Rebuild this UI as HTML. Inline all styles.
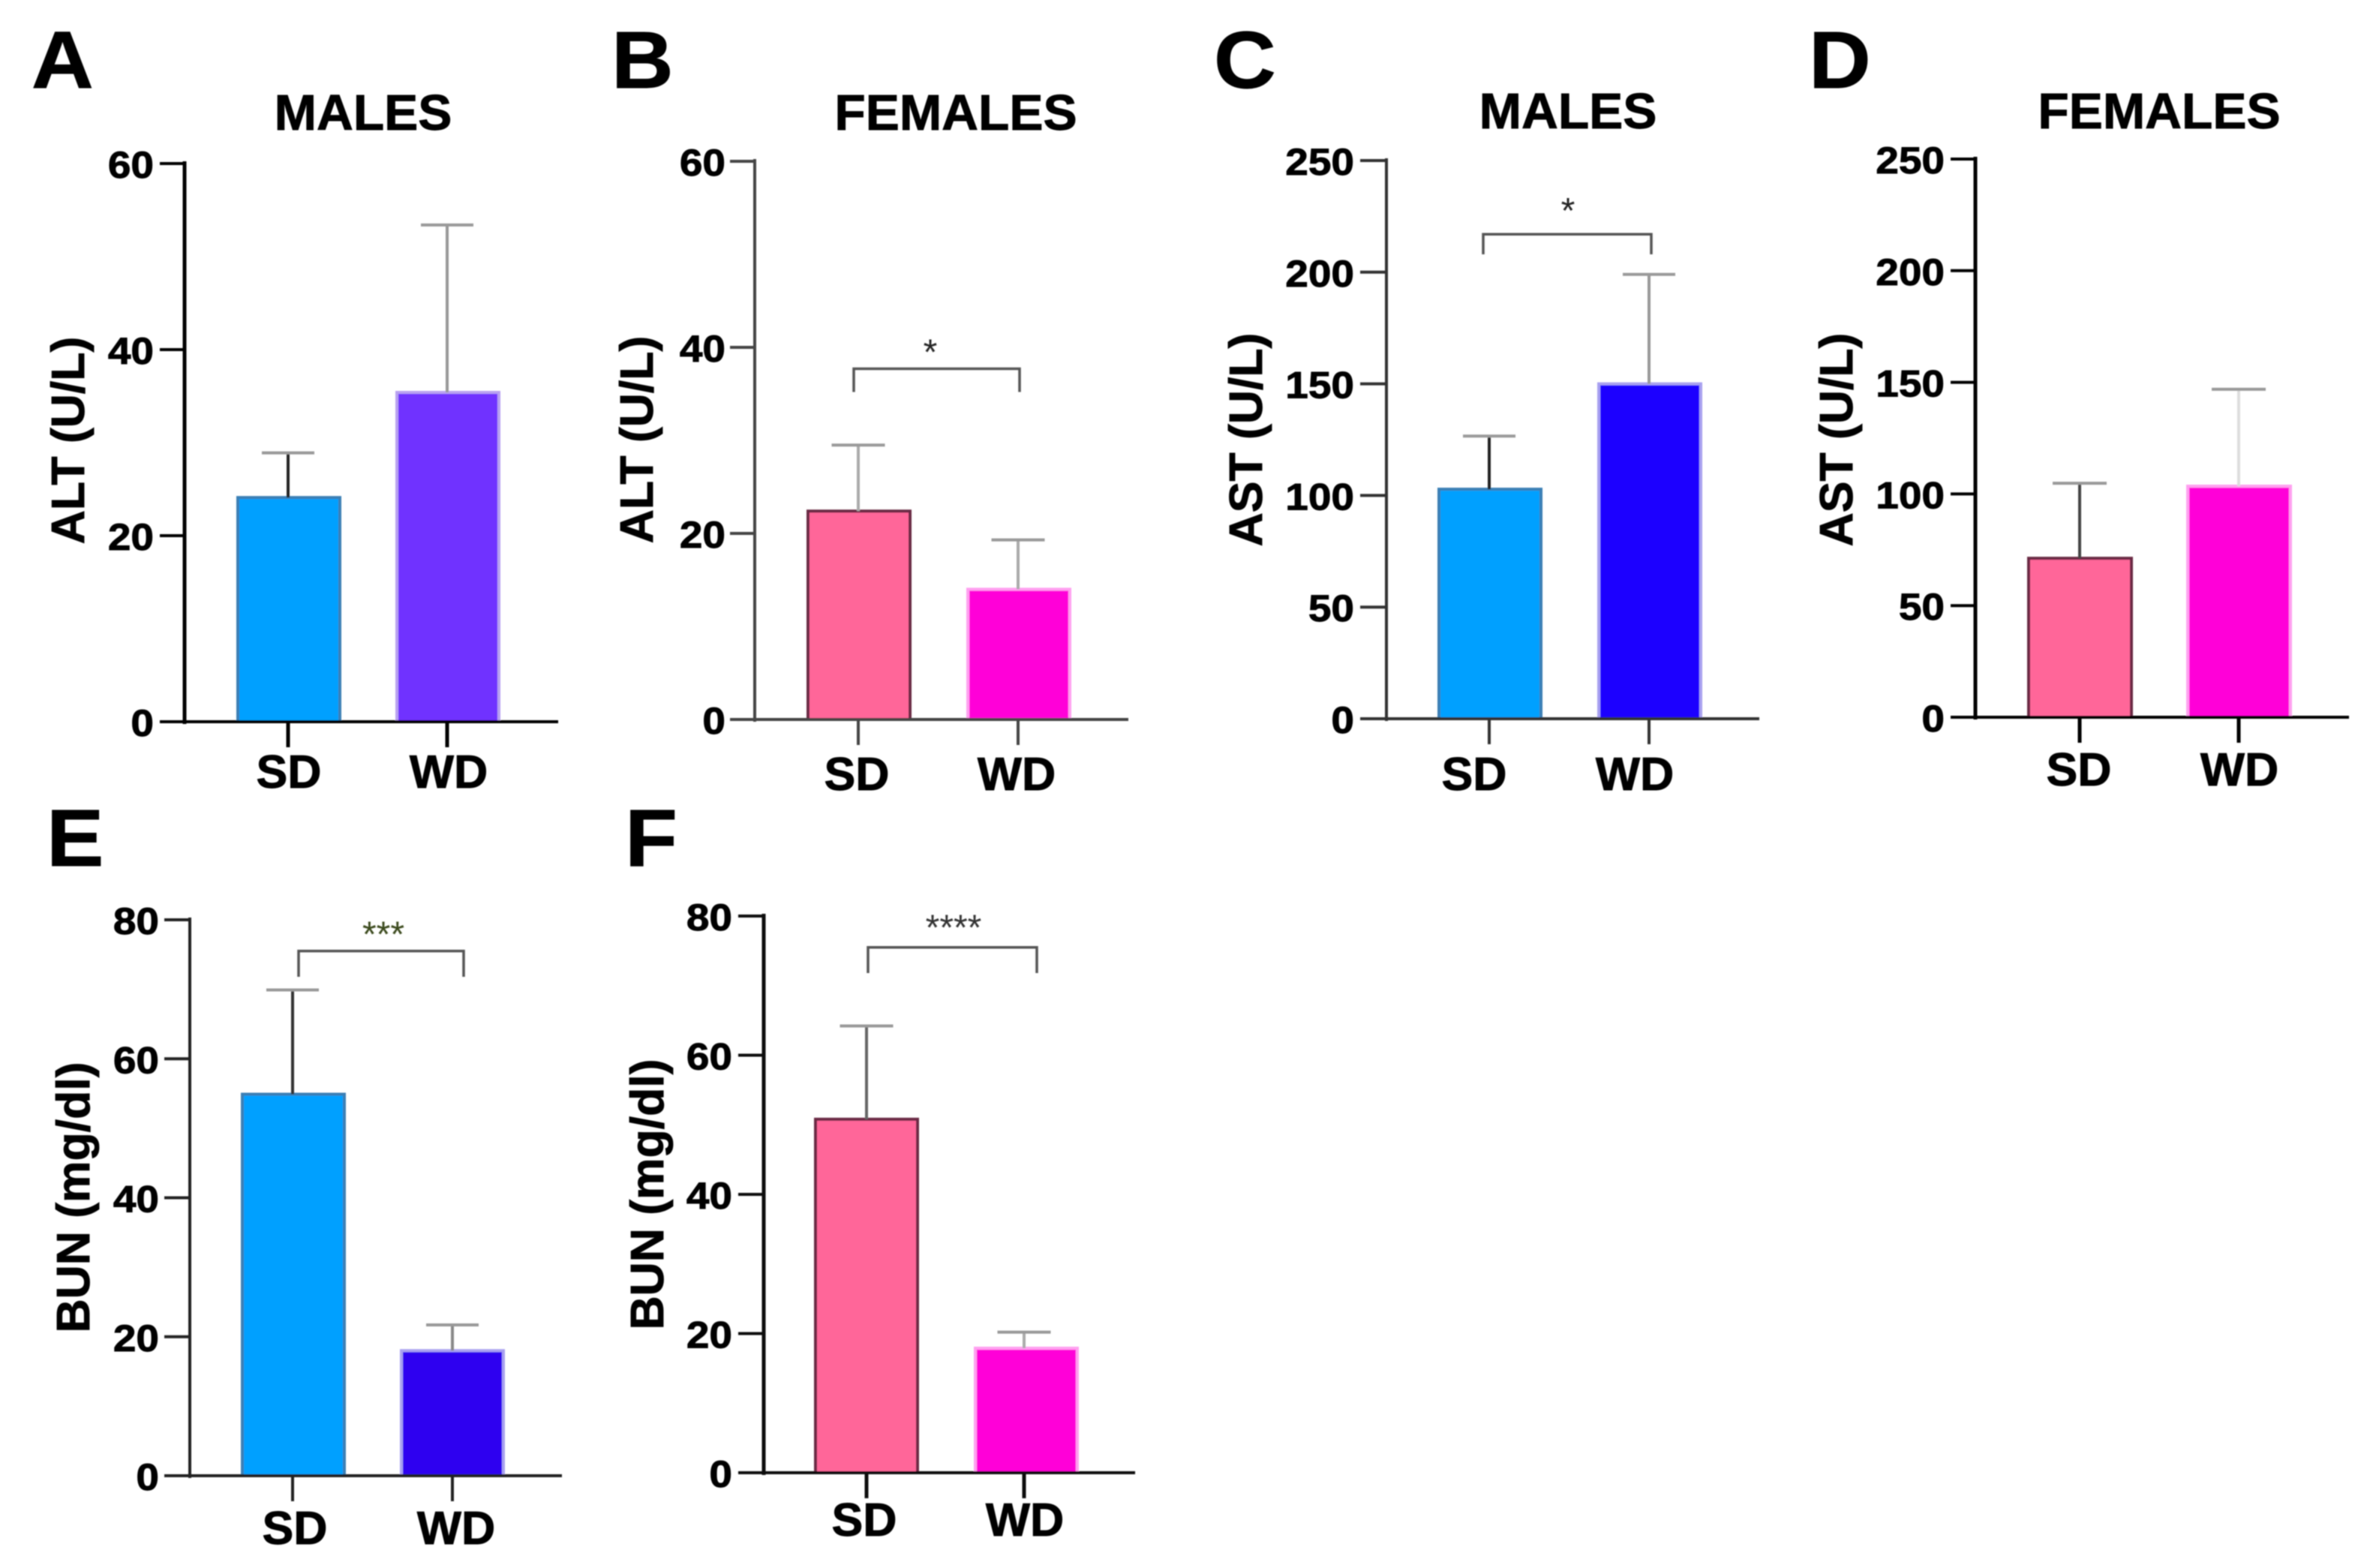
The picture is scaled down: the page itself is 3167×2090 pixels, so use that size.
<!DOCTYPE html>
<html lang="en">
<head>
<meta charset="utf-8">
<title>Serum ALT, AST and BUN in males and females on SD and WD</title>
<style>
  html, body { margin: 0; padding: 0; background: #fff; }
  #figure { display: block; width: 3167px; height: 2090px; font-family: "Liberation Sans", Arial, sans-serif; }
</style>
</head>
<body>
<svg id="figure" xmlns="http://www.w3.org/2000/svg" width="3167" height="2090" viewBox="0 0 3167 2090">
  <defs><filter id="soft" x="-2%" y="-2%" width="104%" height="104%"><feGaussianBlur stdDeviation="0.7"/></filter></defs>
  <rect width="3167" height="2090" fill="#fff"/>
  <g id="root" filter="url(#soft)"></g>
</svg>
<script>
// ---- Data ----
const categories = ['SD', 'WD'];

const altTicks = [0, 20, 40, 60];
const astTicks = [0, 50, 100, 150, 200, 250];
const bunTicks = [0, 20, 40, 60, 80];

const altMalesMeans = [24.1, 35.4];
const altMalesErrors = [4.8, 18.0];

const altFemalesMeans = [22.4, 14.0];
const altFemalesErrors = [7.1, 5.3];
const altFemalesBracket = [37.7, 35.2];

const astMalesMeans = [102.8, 150];
const astMalesErrors = [23.8, 49];
const astMalesBracket = [217, 208];

const astFemalesMeans = [71.2, 103.5];
const astFemalesErrors = [33.6, 43.4];

const bunMalesMeans = [54.9, 18.0];
const bunMalesErrors = [15.0, 3.7];
const bunMalesBracket = [75.5, 71.8];

const bunFemalesMeans = [50.8, 17.9];
const bunFemalesErrors = [13.4, 2.3];
const bunFemalesBracket = [75.5, 71.8];

// ---- Panel layout and style (no data values) ----
const BLUE = '#00a0ff', PINK = '#ff6699', MAGENTA = '#ff00d8';
const panels = [
  { id: 'a', letter: 'A', letterX: 42, letterY: 117, title: 'MALES', titleX: 484, titleY: 173,
    yTitle: 'ALT (U/L)', yTitleX: 112, yTitleY: 587, ticks: altTicks, means: altMalesMeans, errors: altMalesErrors, bracket: null,
    axisX: 246, zeroY: 962, topY: 218, tickLeft: 213, endX: 744, labelRight: 205,
    barLeft: [315, 527], barWidth: 140, center: [384, 596], capWidth: 70,
    fill: [BLUE, '#7030ff'], edge: ['#3a7fb5', '#b8a0f0'], errColor: ['#222', '#999'],
    axisColor: '#000', axisWidth: 5, xLabelX: [385, 598], xLabelY: 1050 },
  { id: 'b', letter: 'B', letterX: 815, letterY: 117, title: 'FEMALES', titleX: 1274, titleY: 173,
    yTitle: 'ALT (U/L)', yTitleX: 870, yTitleY: 586, ticks: altTicks, means: altFemalesMeans, errors: altFemalesErrors, bracket: altFemalesBracket,
    axisX: 1006, zeroY: 959, topY: 215, tickLeft: 973, endX: 1504, labelRight: 967,
    barLeft: [1075, 1288], barWidth: 140, center: [1144, 1357], capWidth: 71,
    fill: [PINK, MAGENTA], edge: ['#6a2a44', '#ffa0f0'], errColor: ['#aaa', '#aaa'],
    axisColor: '#444', axisWidth: 4, xLabelX: [1142, 1355], xLabelY: 1053,
    bracketX: [1138, 1359], starX: 1240, starGap: 33, stars: '*', starColor: '#222' },
  { id: 'c', letter: 'C', letterX: 1618, letterY: 117, title: 'MALES', titleX: 2090, titleY: 171,
    yTitle: 'AST (U/L)', yTitleX: 1682, yTitleY: 586, ticks: astTicks, means: astMalesMeans, errors: astMalesErrors, bracket: astMalesBracket,
    axisX: 1848, zeroY: 958, topY: 214, tickLeft: 1813, endX: 2345, labelRight: 1805,
    barLeft: [1916, 2129], barWidth: 140, center: [1985, 2198], capWidth: 70,
    fill: [BLUE, '#1a00ff'], edge: ['#3a7fb5', '#a8a0f0'], errColor: ['#222', '#999'],
    axisColor: '#333', axisWidth: 4, xLabelX: [1965, 2179], xLabelY: 1053,
    bracketX: [1977, 2201], starX: 2090, starGap: 42, stars: '*', starColor: '#222' },
  { id: 'd', letter: 'D', letterX: 2411, letterY: 117, title: 'FEMALES', titleX: 2878, titleY: 171,
    yTitle: 'AST (U/L)', yTitleX: 2469, yTitleY: 586, ticks: astTicks, means: astFemalesMeans, errors: astFemalesErrors, bracket: null,
    axisX: 2633, zeroY: 956, topY: 212, tickLeft: 2600, endX: 3131, labelRight: 2592,
    barLeft: [2702, 2914], barWidth: 141, center: [2772, 2984], capWidth: 72,
    fill: [PINK, MAGENTA], edge: ['#6a2a44', '#ffa0f0'], errColor: ['#444', '#ddd'],
    axisColor: '#000', axisWidth: 5, xLabelX: [2771, 2985], xLabelY: 1047 },
  { id: 'e', letter: 'E', letterX: 62, letterY: 1154, title: '', yTitle: 'BUN (mg/dl)', yTitleX: 119, yTitleY: 1596,
    ticks: bunTicks, means: bunMalesMeans, errors: bunMalesErrors, bracket: bunMalesBracket,
    axisX: 253, zeroY: 1967, topY: 1226, tickLeft: 219, endX: 749, labelRight: 212,
    barLeft: [321, 533], barWidth: 140, center: [390, 603], capWidth: 70,
    fill: [BLUE, '#2e00f0'], edge: ['#3a7fb5', '#a8a0f0'], errColor: ['#333', '#888'],
    axisColor: '#222', axisWidth: 4, xLabelX: [393, 608], xLabelY: 2058,
    bracketX: [398, 618], starX: 511, starGap: 33, stars: '***', starColor: '#3a4a1a' },
  { id: 'f', letter: 'F', letterX: 833, letterY: 1154, title: '', yTitle: 'BUN (mg/dl)', yTitleX: 884, yTitleY: 1592,
    ticks: bunTicks, means: bunFemalesMeans, errors: bunFemalesErrors, bracket: bunFemalesBracket,
    axisX: 1018, zeroY: 1963, topY: 1221, tickLeft: 984, endX: 1513, labelRight: 976,
    barLeft: [1085, 1298], barWidth: 140, center: [1155, 1365], capWidth: 71,
    fill: [PINK, MAGENTA], edge: ['#6a2a44', '#ffa0f0'], errColor: ['#666', '#aaa'],
    axisColor: '#111', axisWidth: 5, xLabelX: [1152, 1366], xLabelY: 2047,
    bracketX: [1157, 1382], starX: 1271, starGap: 37, stars: '****', starColor: '#333' }
];

const NS = 'http://www.w3.org/2000/svg';
const root = document.getElementById('root');

function svgEl(parent, tag, attrs) {
  const el = document.createElementNS(NS, tag);
  for (const k in attrs) el.setAttribute(k, attrs[k]);
  parent.appendChild(el);
  return el;
}
function line(parent, x1, y1, x2, y2, stroke, width) {
  return svgEl(parent, 'line', { x1: x1, y1: y1, x2: x2, y2: y2, stroke: stroke, 'stroke-width': width });
}
function label(parent, str, x, y, size, anchor, sx, weight, fill, rotate) {
  const t = svgEl(parent, 'text', {
    transform: 'translate(' + x + ',' + y + ')' + (rotate ? ' rotate(-90)' : '') + ' scale(' + sx + ',1)',
    'font-size': size, 'font-weight': weight, 'text-anchor': anchor, fill: fill
  });
  if (weight === 700) {
    t.setAttribute('stroke', fill);
    t.setAttribute('stroke-width', '0.9');
  }
  t.textContent = str;
  return t;
}

panels.forEach(function (p) {
  const yMax = p.ticks[p.ticks.length - 1];
  const y = function (v) { return p.zeroY - v * (p.zeroY - p.topY) / yMax; };

  const g = svgEl(root, 'g', {});
  
  

  const letter = label(g, p.letter, p.letterX, p.letterY, 108, 'start', 1.06, 700, '#000', false);
  
  

  if (p.title) {
    const title = label(g, p.title, p.titleX, p.titleY, 67, 'middle', 1.01, 700, '#000', false);
    
    
  }

  const yTitle = label(g, p.yTitle, p.yTitleX, p.yTitleY, 62.5, 'middle', 1, 700, '#000', true);
  
  

  categories.forEach(function (cat, i) {
    const top = y(p.means[i]);
    const bar = svgEl(g, 'rect', {
      x: p.barLeft[i] + 2, y: top, width: p.barWidth - 4, height: p.zeroY - top,
      fill: p.fill[i], stroke: p.edge[i], 'stroke-width': 4
    });
    
    

    const upper = y(p.means[i] + p.errors[i]);
    const errLine = line(g, p.center[i], top, p.center[i], upper, p.errColor[i], 4);
    
    

    const cap = line(g, p.center[i] - p.capWidth / 2, upper, p.center[i] + p.capWidth / 2, upper, '#999', 4);
    
    

    const xTick = line(g, p.center[i], p.zeroY, p.center[i], p.zeroY + 34, p.axisColor, p.axisWidth);
    
    

    const xLabel = label(g, cat, p.xLabelX[i], p.xLabelY, 62, 'middle', 1.01, 700, '#000', false);
    
    
  });

  const yAxis = line(g, p.axisX, y(yMax) - 3, p.axisX, p.zeroY + 3, p.axisColor, p.axisWidth);
  
  

  const xAxis = line(g, p.tickLeft, p.zeroY, p.endX, p.zeroY, p.axisColor, 4);
  
  

  p.ticks.forEach(function (v) {
    const tick = line(g, p.tickLeft, y(v), p.axisX, y(v), p.axisColor, 4);
    
    

    const tickLabel = label(g, String(v), p.labelRight, y(v) + 19, 50, 'end', 1.1, 700, '#000', false);
    
    
  });

  if (p.bracket) {
    const by = y(p.bracket[0]);
    const bb = y(p.bracket[1]);
    const bracket = svgEl(g, 'polyline', {
      points: p.bracketX[0] + ',' + bb + ' ' + p.bracketX[0] + ',' + by + ' ' + p.bracketX[1] + ',' + by + ' ' + p.bracketX[1] + ',' + bb,
      fill: 'none', stroke: '#555', 'stroke-width': 3.5
    });
    
    

    const stars = label(g, p.stars, p.starX, by - p.starGap + 27, 48, 'middle', 1, 400, p.starColor, false);
    
    
  }
});
</script>
</body>
</html>
